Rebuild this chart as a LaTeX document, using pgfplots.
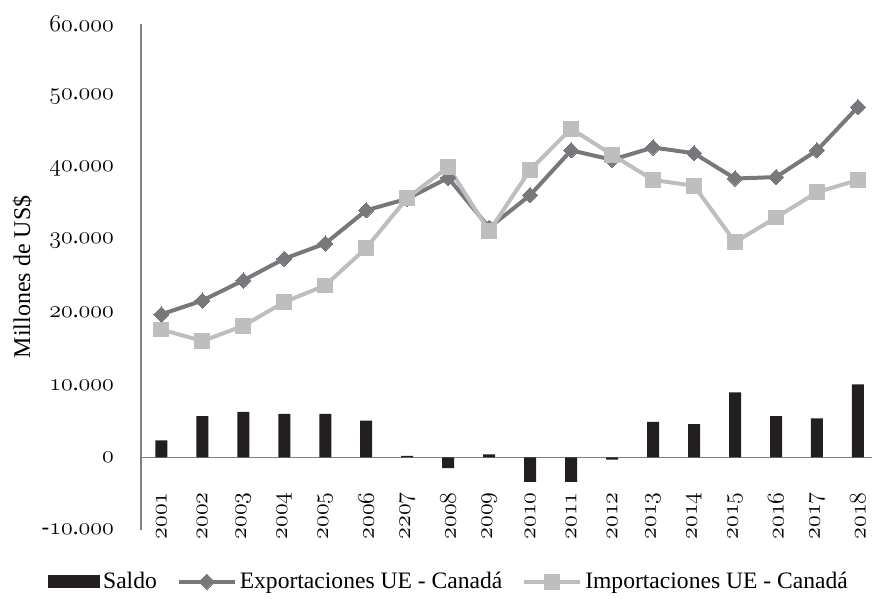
\documentclass[border=0pt]{standalone}
\usepackage{pgfplots}
\pgfplotsset{compat=1.18}
\usepackage{fontspec}
\setmainfont{Liberation Serif}
\newcommand\os[1]{{\usefont{OML}{lmm}{m}{it}#1}}
\definecolor{barc}{RGB}{35,31,32}
\definecolor{expc}{RGB}{119,120,123}
\definecolor{impc}{RGB}{188,190,192}
\definecolor{axc}{RGB}{128,128,128}
\pgfplotsset{linelegend/.style={legend image code/.code={\draw[##1, mark repeat=2, mark phase=2] plot coordinates {(0pt,0pt) (14pt,0pt) (28pt,0pt)};}}}
\begin{document}
\begin{tikzpicture}
\begin{axis}[
  scale only axis, width=366pt, height=253pt,
  xmin=-0.5, xmax=17.35, ymin=-10000, ymax=60000,
  axis x line=middle, axis y line=left,
  axis line style={-, draw=axc, line width=0.7pt},
  hide obscured x ticks=false, hide obscured y ticks=false,
  scaled y ticks=false,
  major tick length=0pt,
  xtick={0,...,17},
  xticklabels={\os{2001},\os{2002},\os{2003},\os{2004},\os{2005},\os{2006},\os{2207},\os{2008},\os{2009},\os{2010},\os{2011},\os{2012},\os{2013},\os{2014},\os{2015},\os{2016},\os{2017},\os{2018}},
  ytick={-10000,0,10000,20000,30000,40000,50000,60000},
  yticklabels={-\os{10}.\os{000},\os{0},\os{10}.\os{000},\os{20}.\os{000},\os{30}.\os{000},\os{40}.\os{000},\os{50}.\os{000},\os{60}.\os{000}},
  xticklabel style={yshift=-14pt, rotate=90, anchor=east, font=\fontsize{11.8}{13}\selectfont},
  yticklabel style={anchor=east, xshift=-10pt, font=\fontsize{11.5}{13}\selectfont},
  ylabel={Millones de US\$},
  every axis y label/.style={at={(axis description cs:-0.162,0.5)}, rotate=90, anchor=center, font=\fontsize{12}{14}\selectfont},
  legend style={at={(0.422,-0.103)}, anchor=center, draw=none, fill=none,
    font=\fontsize{11.8}{14}\selectfont, nodes={inner sep=1.5pt},
    /tikz/every even column/.append style={column sep=8.5pt}},
  legend columns=-1,
  clip=false,
]
\addplot[ybar, bar width=6pt, fill=barc, draw=none,
  legend image code/.code={\fill[barc] (0pt,-3.4pt) rectangle (26pt,3.4pt);}]
  coordinates {(0,2350) (1,5700) (2,6300) (3,6000) (4,6000) (5,5100) (6,200) (7,-1500) (8,400) (9,-3400) (10,-3400) (11,-300) (12,4900) (13,4600) (14,9000) (15,5700) (16,5400) (17,10100)};
\addlegendentry{Saldo}
\addplot[color=expc, line width=2pt, mark=square*, mark size=2.7pt,
  mark options={rotate=45, fill=expc, draw=expc, line width=0pt}, linelegend]
  coordinates {(0,19800) (1,21700) (2,24500) (3,27500) (4,29600) (5,34200) (6,35800) (7,38700) (8,31800) (9,36300) (10,42500) (11,41200) (12,42900) (13,42100) (14,38600) (15,38800) (16,42500) (17,48500)};
\addlegendentry{Exportaciones UE - Canadá}
\addplot[color=impc, line width=2pt, mark=square*, mark size=3.7pt,
  mark options={fill=impc, draw=impc, line width=0pt}, linelegend]
  coordinates {(0,17700) (1,16100) (2,18200) (3,21500) (4,23800) (5,29000) (6,35900) (7,40200) (8,31300) (9,39800) (10,45500) (11,41900) (12,38400) (13,37600) (14,29800) (15,33200) (16,36700) (17,38400)};
\addlegendentry{Importaciones UE - Canadá}
\path (axis description cs:-0.1926,1.0474) (axis description cs:1,-0.1245);
\end{axis}
\end{tikzpicture}
\end{document}
